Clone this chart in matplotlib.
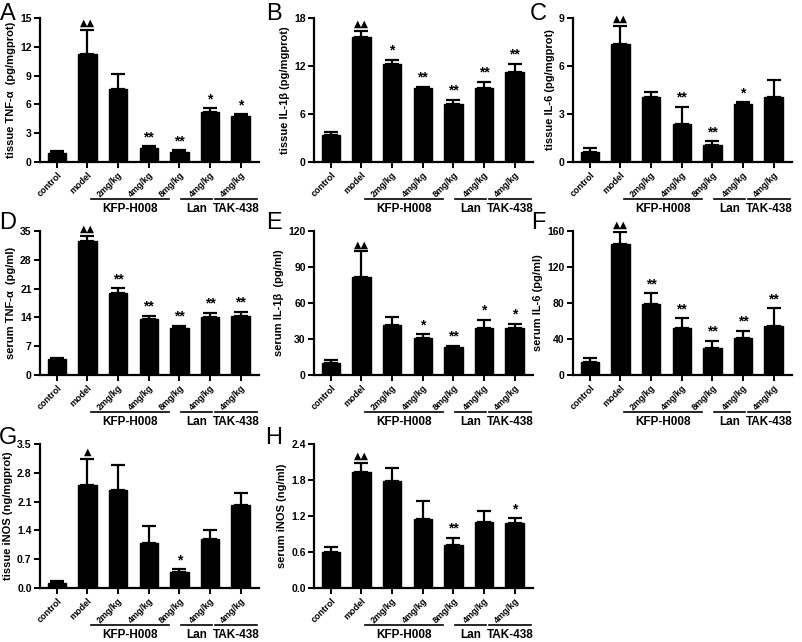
import matplotlib
matplotlib.use('Agg')
import matplotlib.pyplot as plt
import matplotlib.transforms as mtransforms
import numpy as np

plt.rcParams['font.family'] = ['Liberation Sans', 'DejaVu Sans']
plt.rcParams['font.weight'] = 'bold'

# x categories
groups = ['control', 'model', '2mg/kg', '4mg/kg', '8mg/kg', '4mg/kg', '4mg/kg']

# panel data: means, upper error, significance marks
a_mean = [0.9, 11.2, 7.6, 1.45, 1.0, 5.25, 4.8]
a_err = [0.2, 2.6, 1.6, 0.2, 0.2, 0.35, 0.15]
a_sig = ['', '▲▲', '', '**', '**', '*', '*']

b_mean = [3.4, 15.6, 12.3, 9.2, 7.3, 9.3, 11.2]
b_err = [0.35, 0.8, 0.5, 0.2, 0.5, 0.7, 1.1]
b_sig = ['', '▲▲', '*', '**', '**', '**', '**']

c_mean = [0.65, 7.4, 4.05, 2.4, 1.05, 3.65, 4.05]
c_err = [0.25, 1.1, 0.3, 1.05, 0.25, 0.08, 1.1]
c_sig = ['', '▲▲', '', '**', '**', '*', '']

d_mean = [3.9, 32.5, 20.0, 13.5, 11.5, 14.0, 14.3]
d_err = [0.3, 1.3, 1.1, 0.9, 0.4, 1.1, 1.1]
d_sig = ['', '▲▲', '**', '**', '**', '**', '**']

e_mean = [10, 82, 42, 31, 23.5, 39.5, 39.5]
e_err = [2.5, 21, 6.5, 3, 1, 6.5, 3]
e_sig = ['', '▲▲', '', '*', '**', '*', '*']

f_mean = [15, 146, 79, 52, 30, 41, 55]
f_err = [4, 13, 12, 11, 8, 8, 19]
f_sig = ['', '▲▲', '**', '**', '**', '**', '**']

g_mean = [0.11, 2.5, 2.37, 1.1, 0.4, 1.2, 2.02]
g_err = [0.06, 0.63, 0.62, 0.4, 0.05, 0.22, 0.28]
g_sig = ['', '▲', '', '', '*', '', '']

h_mean = [0.6, 1.93, 1.78, 1.15, 0.72, 1.1, 1.08]
h_err = [0.08, 0.15, 0.22, 0.3, 0.12, 0.18, 0.08]
h_sig = ['', '▲▲', '', '', '**', '', '*']

panels = [
    ('A', 'tissue TNF-α  (pg/mgprot)', a_mean, a_err, a_sig, 15, 3, '{:.0f}'),
    ('B', 'tissue IL-1β (pg/mgprot)', b_mean, b_err, b_sig, 18, 6, '{:.0f}'),
    ('C', 'tissue IL-6 (pg/mgprot)', c_mean, c_err, c_sig, 9, 3, '{:.0f}'),
    ('D', 'serum TNF-α  (pg/ml)', d_mean, d_err, d_sig, 35, 7, '{:.0f}'),
    ('E', 'serum IL-1β  (pg/ml)', e_mean, e_err, e_sig, 120, 30, '{:.0f}'),
    ('F', 'serum IL-6 (pg/ml)', f_mean, f_err, f_sig, 160, 40, '{:.0f}'),
    ('G', 'tissue iNOS (ng/mgprot)', g_mean, g_err, g_sig, 3.5, 0.7, '{:.1f}'),
    ('H', 'serum iNOS (ng/ml)', h_mean, h_err, h_sig, 2.4, 0.6, '{:.1f}'),
]

# group brackets under the tick labels: (start, end, label)
brackets = [(1.1, 3.65, 'KFP-H008'), (4.05, 5.05, 'Lan'), (5.15, 6.55, 'TAK-438')]

W, H = 803, 642
fig = plt.figure(figsize=(W / 100, H / 100), dpi=100)

lefts = [40, 314, 573]
tops = [18, 231, 444]
letter_x = [8, 274, 538]
letter_y = [14, 223, 438]
aw, ah = 219, 144

# nudge rotated tick labels right so their ends sit just past the tick
shift = mtransforms.ScaledTranslation(7 / 100, 0, fig.dpi_scale_trans)

x = np.arange(len(groups))
for i, (letter, ylab, mean, err, sig, ymax, step, fmt) in enumerate(panels):
    r, c = divmod(i, 3)
    ax = fig.add_axes([lefts[c] / W, 1 - (tops[r] + ah) / H, aw / W, ah / H])
    ax.bar(x, mean, width=0.6, color='black', edgecolor='black')
    ax.errorbar(x, mean, yerr=[np.zeros(len(mean)), err], fmt='none',
                ecolor='black', elinewidth=1.6, capsize=5, capthick=1.6)
    ax.set_xlim(-0.55, 6.6)
    ax.set_ylim(0, ymax)
    ticks = np.arange(0, ymax + step / 2, step)
    ax.set_yticks(ticks)
    ax.set_yticklabels([fmt.format(t) for t in ticks], fontsize=7.5, fontweight='bold')
    ax.set_xticks(x)
    ax.set_xticklabels(groups, rotation=45, ha='right', rotation_mode='anchor',
                       fontsize=6.5, fontweight='bold')
    for lbl in ax.get_xticklabels():
        lbl.set_transform(lbl.get_transform() + shift)
    ax.set_ylabel(ylab, fontsize=8, fontweight='bold', labelpad=3)
    for s in ['top', 'right']:
        ax.spines[s].set_visible(False)
    for s in ['left', 'bottom']:
        ax.spines[s].set_linewidth(1.6)
    ax.tick_params(axis='both', direction='out', width=1.4, length=4, pad=2)
    for xi, m, e, s in zip(x, mean, err, sig):
        if s:
            fs = 7 if '▲' in s else 10
            ax.annotate(s, (xi, m + e), xytext=(0, 1.5), textcoords='offset points',
                        ha='center', va='bottom', fontsize=fs, fontweight='bold',
                        family=['DejaVu Sans'] if '▲' in s else ['Liberation Sans'])
    tr = ax.get_xaxis_transform()
    for x0, x1, lab in brackets:
        ax.plot([x0, x1], [-0.255, -0.255], color='black', lw=1.2, transform=tr, clip_on=False)
        ax.text((x0 + x1) / 2, -0.325, lab, transform=tr, ha='center', va='center',
                fontsize=8.5, fontweight='bold')
    fig.text(letter_x[c] / W, 1 - letter_y[r] / H, letter, fontsize=17,
             fontweight='normal', ha='center', va='center')

fig.savefig('out.png', dpi=100)
